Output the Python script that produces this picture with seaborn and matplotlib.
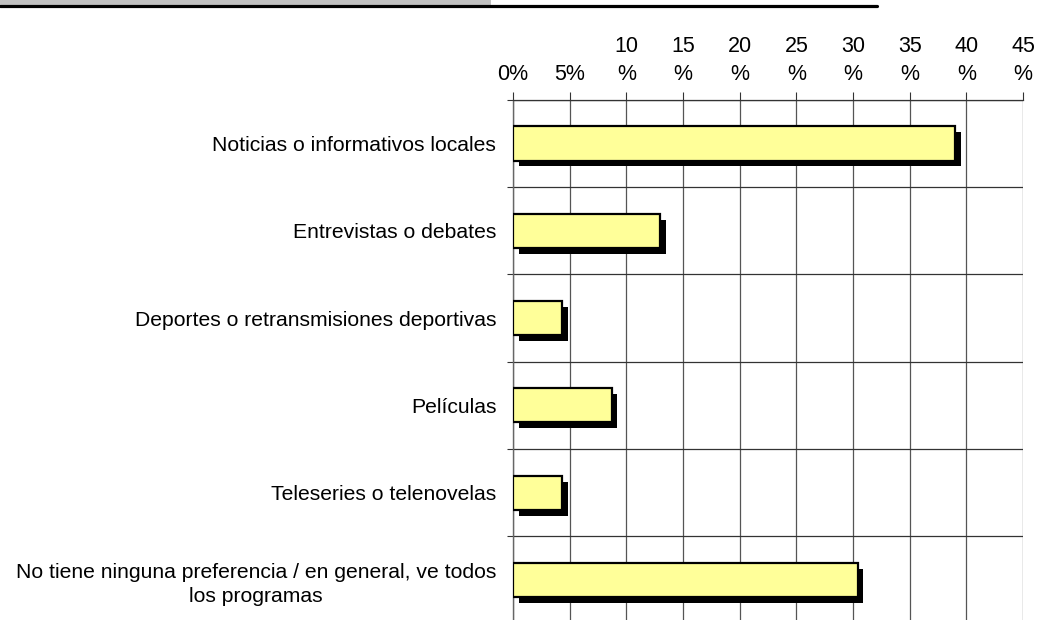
import matplotlib
matplotlib.use("Agg")
import matplotlib.pyplot as plt
import matplotlib.patheffects as pe
from matplotlib.patches import Rectangle
from matplotlib.lines import Line2D
import seaborn as sns
import pandas as pd
import numpy as np

categories = [
    "Noticias o informativos locales",
    "Entrevistas o debates",
    "Deportes o retransmisiones deportivas",
    "Películas",
    "Teleseries o telenovelas",
    "No tiene ninguna preferencia / en general, ve todos\nlos programas",
]
values = [39.0, 13.0, 4.3, 8.7, 4.3, 30.4]
xticks = [0, 5, 10, 15, 20, 25, 30, 35, 40, 45]
xticklabels = ["0%", "5%", "10\n%", "15\n%", "20\n%", "25\n%", "30\n%", "35\n%", "40\n%", "45\n%"]

sns.set_theme(style="white")
plt.rcParams["font.family"] = ["Liberation Sans", "DejaVu Sans"]

df = pd.DataFrame({"cat": categories, "val": values})

fig = plt.figure(figsize=(10.42, 6.2), dpi=100)
ax = fig.add_axes([513 / 1042, -0.006, 510 / 1042, 0.845])

sns.barplot(data=df, x="val", y="cat", orient="h", color="#FFFF99", saturation=1,
            edgecolor="black", linewidth=1.6, width=0.39, ax=ax, zorder=3)
for p in ax.patches:
    p.set_path_effects([pe.SimplePatchShadow(offset=(4.2, -4.3), shadow_rgbFace="black", alpha=1.0),
                        pe.Normal()])

ax.set_xlim(0, 45)
ax.set_ylim(5.5, -0.5)
ax.xaxis.tick_top()
ax.set_xticks(xticks)
ax.set_xticklabels(xticklabels, fontsize=15.5, color="black", linespacing=1.4)
ax.tick_params(axis="x", which="major", direction="out", length=6, width=0.8,
               color="#333333", pad=5, top=True, bottom=False)
ax.set_yticks(range(len(categories)))
ax.set_yticklabels(categories, fontsize=15.2, color="black", multialignment="center",
                   linespacing=1.3)
ax.tick_params(axis="y", which="major", length=0, pad=12)
ax.set_yticks(np.arange(-0.5, 6.0, 1.0), minor=True)
ax.tick_params(axis="y", which="minor", direction="out", length=4.5, width=0.8,
               color="#333333", left=True)
ax.grid(True, axis="x", which="major", color="#555555", linewidth=0.9)
ax.grid(True, axis="y", which="minor", color="#333333", linewidth=0.9)
ax.set_axisbelow(True)
ax.set_xlabel("")
ax.set_ylabel("")
for s in ["bottom", "right"]:
    ax.spines[s].set_visible(False)
ax.spines["left"].set_color("#666666")
ax.spines["left"].set_linewidth(1.0)
ax.spines["top"].set_color("#333333")
ax.spines["top"].set_linewidth(0.9)

# header remnant
fig.patches.append(Rectangle((0, 1 - 4.5 / 620), 491 / 1042, 4.5 / 620, transform=fig.transFigure,
                             facecolor="#C0C0C0", edgecolor="none"))
fig.lines.append(Line2D([0, 877 / 1042], [1 - 6 / 620, 1 - 6 / 620], transform=fig.transFigure,
                        color="black", linewidth=2.3))

fig.savefig("out.png", dpi=100)
